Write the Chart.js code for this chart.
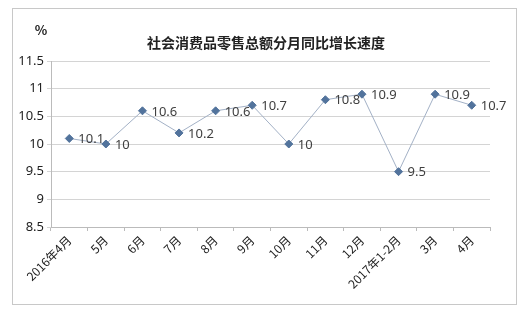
<!DOCTYPE html>
<html>
<head>
<meta charset="utf-8">
<script src="https://cdn.jsdelivr.net/npm/chart.js@4/dist/chart.umd.min.js"></script>
<style>
  html, body { margin: 0; padding: 0; background: #fff; }
  #wrap { width: 520px; height: 312px; }
</style>
</head>
<body>
<div id="wrap"><canvas id="myChart" width="520" height="312"></canvas></div>
<script>
// monthly year-on-year growth of retail sales
var months = ['2016年4月', '5月', '6月', '7月', '8月', '9月', '10月', '11月', '12月', '2017年1-2月', '3月', '4月'];
var growth = [10.1, 10, 10.6, 10.2, 10.6, 10.7, 10, 10.8, 10.9, 9.5, 10.9, 10.7];
var yTicks = [8.5, 9, 9.5, 10, 10.5, 11, 11.5];

var chartTitle = '社会消费品零售总额分月同比增长速度';
var unitLabel = '%';

// frame, unit and title text
var decorPlugin = {
    id: 'decor',
    beforeDraw: function (chart) {
        var c = chart.ctx;
        c.save();
        c.fillStyle = '#fff';
        c.fillRect(0, 0, chart.width, chart.height);
        c.strokeStyle = '#c8c8c8';
        c.lineWidth = 1;
        c.strokeRect(12.5, 8.5, 504, 296);
        c.fillStyle = '#222';
        c.font = 'bold 13px "Noto Sans CJK SC"';
        c.textAlign = 'center';
        c.textBaseline = 'middle';
        c.fillText(unitLabel, 41, 30);
        c.font = 'bold 14px "Noto Sans CJK SC"';
        c.fillText(chartTitle, 266, 43);
        c.restore();
    }
};

// value labels to the right of each point
var valueLabels = {
    id: 'valueLabels',
    afterDatasetsDraw: function (chart) {
        var c = chart.ctx;
        var meta = chart.getDatasetMeta(0);
        c.save();
        c.fillStyle = '#404040';
        c.font = '13px "Noto Sans"';
        c.textAlign = 'left';
        c.textBaseline = 'middle';
        meta.data.forEach(function (pt, i) {
            c.fillText(String(growth[i]), pt.x + 9, pt.y + 1);
        });
        c.restore();
    }
};

var ctx = document.getElementById('myChart');
var myChart = new Chart(ctx, {
    type: 'line',
    data: {
        labels: months,
        datasets: [{
            data: growth,
            borderColor: '#a3b1c6',
            borderWidth: 1,
            backgroundColor: '#52739c',
            pointStyle: 'rectRot',
            pointRadius: 4,
            pointBorderColor: '#52739c',
            pointBackgroundColor: '#52739c',
            tension: 0,
            fill: false
        }]
    },
    options: {
        responsive: false,
        animation: false,
        devicePixelRatio: 1,
        layout: { padding: { top: 61, left: 12, right: 30, bottom: 7 } },
        plugins: {
            legend: { display: false },
            tooltip: { enabled: false }
        },
        scales: {
            x: {
                type: 'category',
                offset: true,
                grid: { offset: true, drawOnChartArea: false, tickLength: 4, color: '#bbb' },
                border: { color: '#bbb' },
                ticks: {
                    minRotation: 45,
                    maxRotation: 45,
                    autoSkip: false,
                    color: '#222',
                    padding: 2,
                    font: { size: 12, family: '"Noto Sans CJK SC"' }
                },
                afterFit: function (s) { s.height = 78; }
            },
            y: {
                min: 8.5,
                max: 11.5,
                afterBuildTicks: function (s) {
                    s.ticks = yTicks.map(function (v) { return { value: v }; });
                },
                grid: { color: '#d4d4d4', tickLength: 4 },
                border: { color: '#bbb' },
                ticks: {
                    color: '#222',
                    padding: 3,
                    callback: function (v) { return String(v); },
                    font: { size: 13, family: '"Noto Sans"' }
                },
                afterFit: function (s) { s.width = 39; }
            }
        }
    },
    plugins: [decorPlugin, valueLabels]
});
</script>
</body>
</html>
